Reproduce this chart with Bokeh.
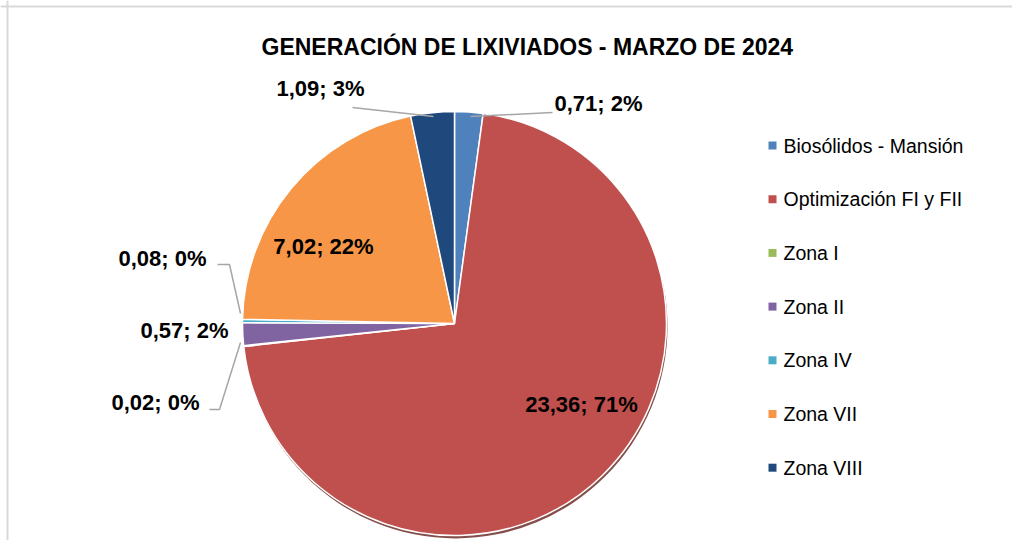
import math
from bokeh.plotting import figure
from bokeh.models import Range1d, Span, ColumnDataSource
from bokeh.core.properties import value
from bokeh.embed import file_html
from bokeh.resources import INLINE

# ---- data ----
categories = ["Biosólidos - Mansión", "Optimización FI y FII", "Zona I", "Zona II",
              "Zona IV", "Zona VII", "Zona VIII"]
values = [0.71, 23.36, 0.02, 0.57, 0.08, 7.02, 1.09]
pct_labels = ["2%", "71%", "0%", "2%", "0%", "22%", "3%"]
colors = ["#4F81BD", "#C0504D", "#9BBB59", "#8064A2", "#4BACC6", "#F79646", "#1F497D"]
title_text = "GENERACIÓN DE LIXIVIADOS  - MARZO DE 2024"

W, H = 1012, 540
FONT = "Liberation Sans"

def px(X):
    return X

def py(Y):
    return H - Y

p = figure(width=W, height=H, x_range=Range1d(0, W), y_range=Range1d(0, H),
           output_backend="svg", toolbar_location=None, min_border=0)
p.axis.visible = False
p.grid.visible = False
p.outline_line_color = None
p.background_fill_color = "white"

# chart frame (left and top edges only visible)
p.add_layout(Span(location=px(7), dimension="height", line_color="#D9D9D9", line_width=2))
p.add_layout(Span(location=py(6), dimension="width", line_color="#D9D9D9", line_width=2))

# pie geometry
cx, cy, R = px(454), py(323), 212
total = sum(values)
starts, ends = [], []
cum = 0.0
for v in values:
    a0 = math.pi / 2 - cum / total * 2 * math.pi
    cum += v
    a1 = math.pi / 2 - cum / total * 2 * math.pi
    starts.append(a0)
    ends.append(a1)

src = ColumnDataSource(dict(start=starts, end=ends, color=colors, cat=categories))

# shadow
p.wedge(x=cx + 1, y=cy - 3, radius=R, start_angle=0, end_angle=2 * math.pi,
        fill_color="#6E2F2C", fill_alpha=0.85, line_color=None)
p.wedge(x=cx, y=cy, radius=R, start_angle="start", end_angle="end", direction="clock",
        fill_color="color", line_color="white", line_width=1.5, source=src)

# data labels
label_pos = [(598, 103), (581, 404), (155, 402), (184, 330), (162, 258), (323, 246), (320, 88)]
lab_txt = [f"{v:.2f}".replace(".", ",") + "; " + pc for v, pc in zip(values, pct_labels)]
p.text(x=[px(a) for a, b in label_pos], y=[py(b) for a, b in label_pos], text=lab_txt,
       text_font=value(FONT), text_font_style="bold", text_font_size="22px",
       text_color="black", text_align="center", text_baseline="middle")

# leader lines
leaders = [
    [(552, 112), (470, 116)],
    [(352, 107), (433, 116)],
    [(217, 264), (229, 264), (240, 313)],
    [(209, 409), (219, 409), (240, 342)],
]
for pts in leaders:
    p.line([px(a) for a, b in pts], [py(b) for a, b in pts], line_color="#A6A6A6", line_width=1.5)

# title
p.text(x=[px(530)], y=[py(46)], text=[title_text], text_font=value(FONT),
       text_font_style="bold", text_font_size="23px", text_color="black",
       text_align="center", text_baseline="middle")

# legend
ly = [py(145 + i * 53.7) for i in range(len(categories))]
p.scatter(x=[px(772)] * len(categories), y=ly, marker="square", size=8,
          fill_color=colors, line_color=None)
p.text(x=[px(783)] * len(categories), y=ly, text=categories, text_font=value(FONT),
       text_font_size="19.5px", text_color="black", text_align="left", text_baseline="middle")

open("out.html", "w").write(file_html(p, INLINE))
